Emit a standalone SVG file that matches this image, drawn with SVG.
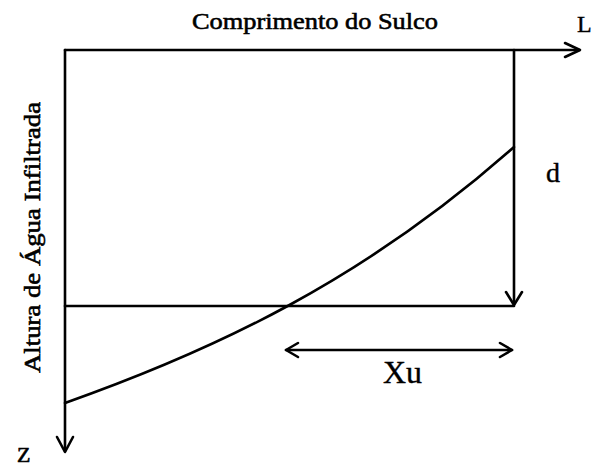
<svg xmlns="http://www.w3.org/2000/svg" width="593" height="467" viewBox="0 0 593 467">
<style>
.ln{fill:none;stroke:#000;stroke-width:2.6;stroke-linecap:round;stroke-linejoin:round}
</style>
<rect width="593" height="467" fill="#fff"/>
<g id="connectors">
<path class="ln" d="M65,50 H579"/>
<path class="ln" d="M565,43 L580,50 L565,57"/>
<path class="ln" d="M65,50 V451"/>
<path class="ln" d="M57,437 L65,452 L73,437"/>
<path class="ln" d="M514,50 V304"/>
<path class="ln" d="M506,292 L514,305 L522,292"/>
<path class="ln" d="M65,306 H514"/>
<path class="ln" d="M286,350 H512"/>
<path class="ln" d="M298,343 L286,350 L298,357"/>
<path class="ln" d="M500,343 L512,350 L500,357"/>
<path class="ln" d="M65,403 C215,350 364,280 514,147"/>
</g>
<g id="title"><text x="192" y="29" font-family="Liberation Serif" font-size="24" stroke="#000" stroke-width="0.6" textLength="246" lengthAdjust="spacingAndGlyphs">Comprimento do Sulco</text></g>
<g id="L"><text x="577" y="32" font-family="Liberation Serif" font-size="24" stroke="#000" stroke-width="0.4">L</text></g>
<g id="ylabel"><text transform="translate(40,373) rotate(-90)" font-family="Liberation Serif" font-size="24" stroke="#000" stroke-width="0.6" textLength="271" lengthAdjust="spacingAndGlyphs">Altura de Água Infiltrada</text></g>
<g id="d"><text x="546" y="182" font-family="Liberation Serif" font-size="28" stroke="#000" stroke-width="0.4">d</text></g>
<g id="Z"><text x="17" y="462" font-family="Liberation Serif" font-size="22" stroke="#000" stroke-width="0.6">Z</text></g>
<g id="Xu"><text x="383" y="383" font-family="Liberation Serif" font-size="32" stroke="#000" stroke-width="0.4" textLength="39" lengthAdjust="spacingAndGlyphs">Xu</text></g>
</svg>
